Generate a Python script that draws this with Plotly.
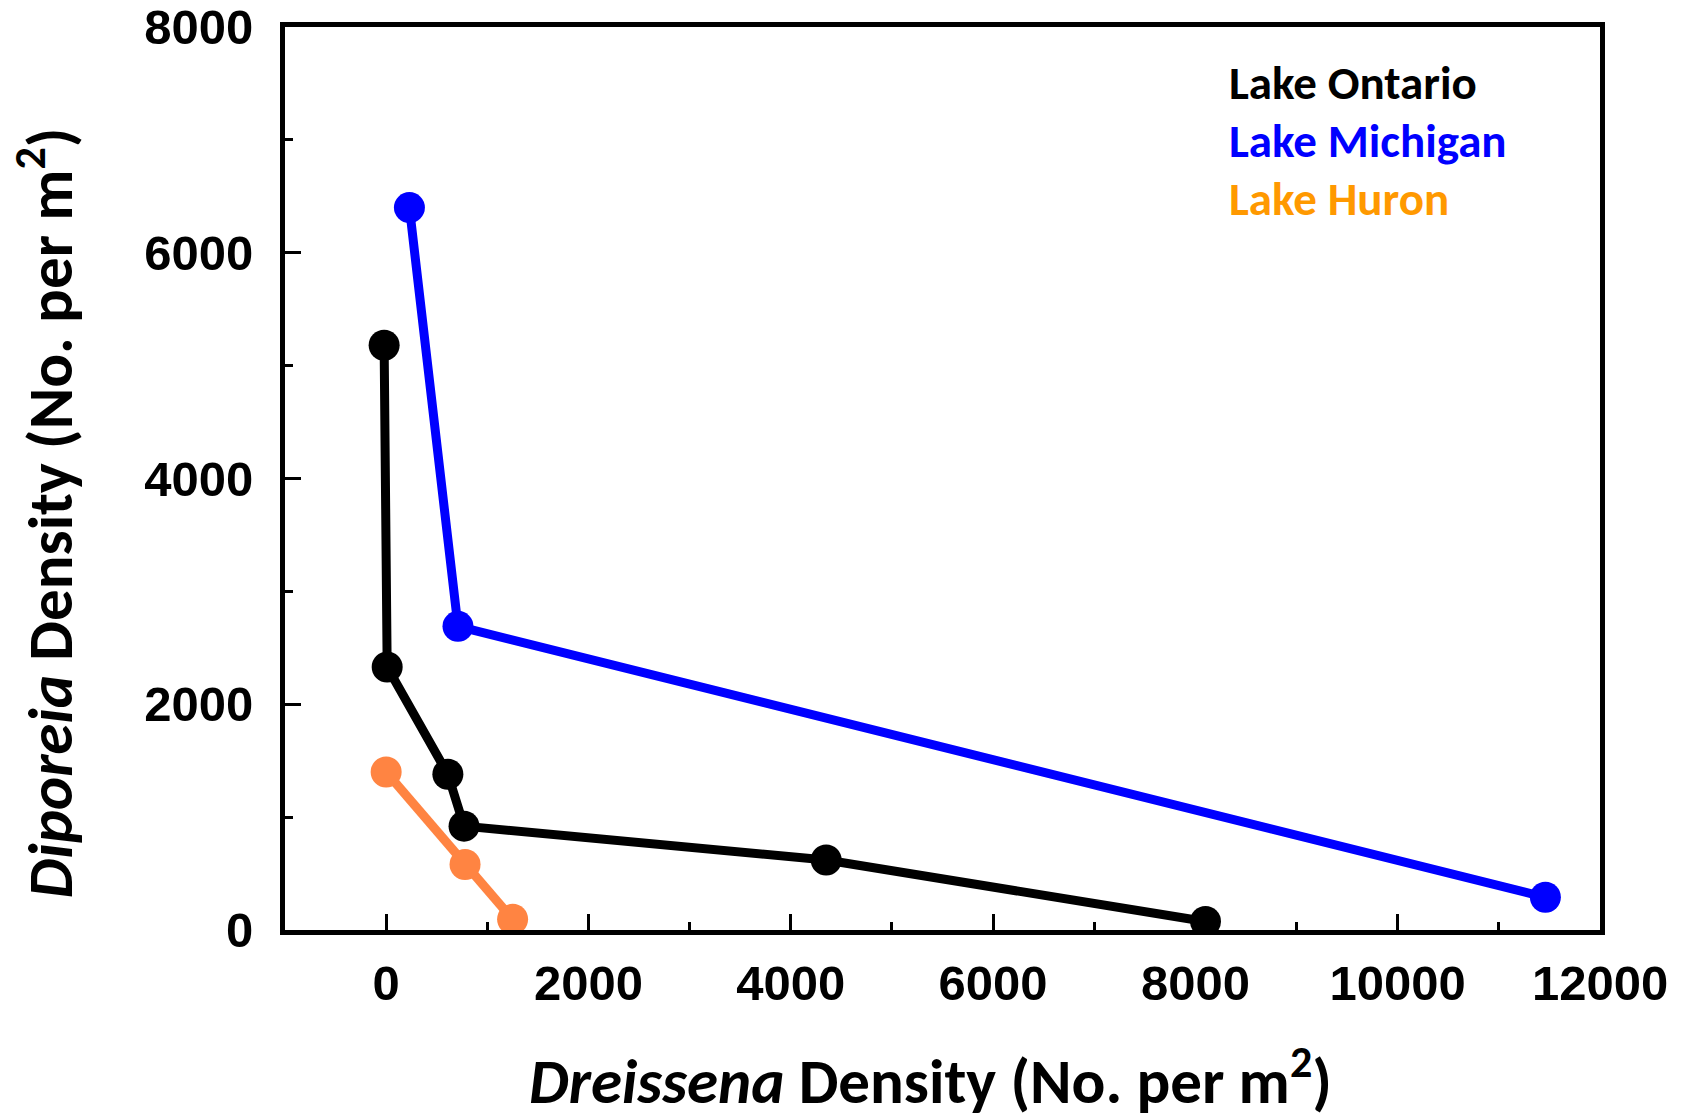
import plotly.graph_objects as go

# Data
ontario_x = [-20, 10, 610, 770, 4350, 8100]
ontario_y = [5180, 2330, 1380, 920, 620, 75]
michigan_x = [230, 710, 11460]
michigan_y = [6400, 2690, 290]
huron_x = [0, 780, 1250]
huron_y = [1400, 580, 95]

series_names = ["Lake Ontario", "Lake Michigan", "Lake Huron"]
line_colors = ["#000000", "#0000FF", "#FF8442"]
legend_colors = ["#000000", "#0000FF", "#FF9900"]

x_ticks = [0, 2000, 4000, 6000, 8000, 10000, 12000]
x_tick_text = ["0", "2000", "4000", "6000", "8000", "10000", "12000"]
y_ticks = [0, 2000, 4000, 6000, 8000]
y_tick_text = ["0", "2000", "4000", "6000", "8000"]

fig = go.Figure()
for name, xs, ys, c in zip(series_names,
                           [ontario_x, michigan_x, huron_x],
                           [ontario_y, michigan_y, huron_y],
                           line_colors):
    fig.add_trace(go.Scatter(x=xs, y=ys, mode="lines+markers", name=name,
                             line=dict(color=c, width=9),
                             marker=dict(color=c, size=31),
                             showlegend=False))

tickfont = dict(family="Liberation Sans, Arial", size=49, color="black", weight="bold")
axis_common = dict(showline=True, linecolor="black", linewidth=5, mirror=True,
                   ticks="inside", ticklen=16, tickwidth=3, tickcolor="black",
                   showgrid=False, zeroline=False, tickfont=tickfont,
                   ticklabeloverflow="allow", automargin=False)
minor = dict(ticks="inside", ticklen=8, tickwidth=3, tickcolor="black",
             dtick=1000, tick0=0, showgrid=False)

fig.update_xaxes(range=[-1000, 12000], tickvals=x_ticks, ticktext=x_tick_text,
                 ticklabelstandoff=6, minor=minor, **axis_common)
fig.update_yaxes(range=[0, 8000], tickvals=y_ticks, ticktext=y_tick_text,
                 ticklabelstandoff=17, minor=minor, **axis_common)

title_font = dict(family="Carlito, Lato, Open Sans, sans-serif", size=63,
                  color="black", weight="bold")
fig.add_annotation(text="<i>Dreissena</i> Density (No. per m<sup>2</sup>)",
                   xref="x", yref="paper", x=5386, y=0, yshift=-147,
                   xanchor="center", yanchor="middle", showarrow=False, font=title_font)
fig.add_annotation(text="<i>Diporeia</i> Density (No. per m<sup>2</sup>)",
                   xref="paper", yref="y", x=0, xshift=-239, y=3690, textangle=-90,
                   xanchor="center", yanchor="middle", showarrow=False, font=title_font)

legend_font = dict(family="Carlito, Lato, Open Sans, sans-serif", size=47, weight="bold")
legend_y = [7500, 6990, 6479]
for name, c, ly in zip(series_names, legend_colors, legend_y):
    fig.add_annotation(text=name, xref="x", yref="y", x=8309, y=ly,
                       xanchor="left", yanchor="middle",
                       showarrow=False, font=dict(color=c, **legend_font))

fig.update_layout(width=1683, height=1117,
                  margin=dict(l=277, r=91, t=19, b=195),
                  plot_bgcolor="white", paper_bgcolor="white")

fig.write_html("out.html")
